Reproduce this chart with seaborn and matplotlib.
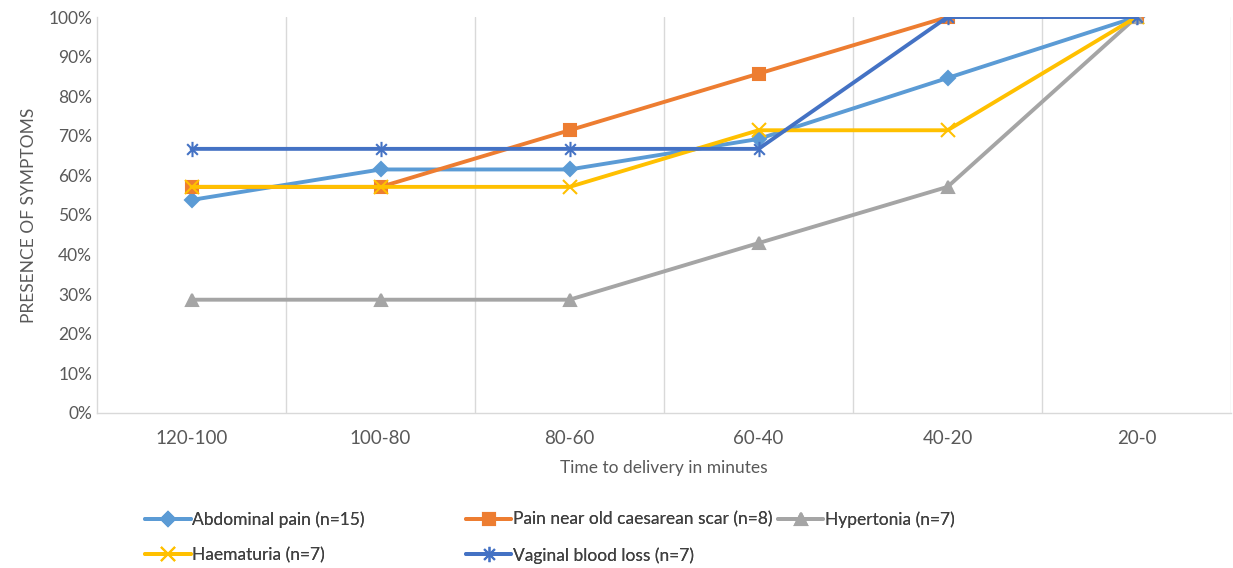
import matplotlib
matplotlib.use("Agg")
import matplotlib.pyplot as plt
import seaborn as sns
import pandas as pd
from matplotlib.path import Path
from matplotlib.ticker import PercentFormatter

# time windows before delivery
periods = ["120-100", "100-80", "80-60", "60-40", "40-20", "20-0"]

# share of patients with the symptom
abdominal_pain = [0.538, 0.615, 0.615, 0.692, 0.846, 1.0]
scar_pain = [0.571, 0.571, 0.714, 0.857, 1.0, 1.0]
hypertonia = [0.286, 0.286, 0.286, 0.429, 0.571, 1.0]
haematuria = [0.571, 0.571, 0.571, 0.714, 0.714, 1.0]
blood_loss = [0.667, 0.667, 0.667, 0.667, 1.0, 1.0]

labels = ["Abdominal pain (n=15)", "Pain near old caesarean scar (n=8)",
          "Hypertonia (n=7)", "Haematuria (n=7)", "Vaginal blood loss (n=7)"]
values = [abdominal_pain, scar_pain, hypertonia, haematuria, blood_loss]
colors = ["#5B9BD5", "#ED7D31", "#A5A5A5", "#FFC000", "#4472C4"]

# Excel-like star: an x with a vertical stroke
star = Path([(-0.7, -0.7), (0.7, 0.7), (-0.7, 0.7), (0.7, -0.7), (0, -1), (0, 1)],
            [Path.MOVETO, Path.LINETO, Path.MOVETO, Path.LINETO, Path.MOVETO, Path.LINETO])
markers = ["D", "s", "^", "x", star]
msizes = [7, 9, 9, 10, 11]

sns.set_style("white")
plt.rcParams["font.family"] = ["Lato", "DejaVu Sans"]

fig = plt.figure(figsize=(12.33, 5.68), dpi=100)
ax = fig.add_axes([0.0787, 0.273, 0.9197, 0.697])

for lab, vals, col, mk, ms in zip(labels, values, colors, markers, msizes):
    df = pd.DataFrame({"period": periods, "share": vals})
    sns.lineplot(data=df, x="period", y="share", ax=ax, color=col, linewidth=2.8,
                 marker=mk, markersize=ms, markeredgecolor=col, markeredgewidth=1.5,
                 label=lab, sort=False)

ax.set_xlim(-0.5, 5.5)
ax.set_ylim(0, 1)
ax.set_yticks([i / 10 for i in range(11)])
ax.yaxis.set_major_formatter(PercentFormatter(1.0, decimals=0))
for b in [0.5, 1.5, 2.5, 3.5, 4.5, 5.5]:
    ax.axvline(b, color="#D9D9D9", linewidth=1, zorder=0)

for s in ["top", "right"]:
    ax.spines[s].set_visible(False)
for s in ["left", "bottom"]:
    ax.spines[s].set_color("#D9D9D9")
    ax.spines[s].set_linewidth(1)

ax.tick_params(axis="both", length=0, colors="#595959", labelsize=12.5)
ax.tick_params(axis="x", pad=12, labelsize=13.5)

ax.set_xlabel("Time to delivery in minutes", fontsize=12.5, color="#595959", labelpad=10)
ax.set_ylabel("PRESENCE OF SYMPTOMS", fontsize=12.5, color="#595959", labelpad=8)

handles, labs = ax.get_legend_handles_labels()
ax.get_legend().remove()
# three legend columns placed like the Excel legend
columns = [([0, 3], 0.118), ([1, 4], 0.378), ([2], 0.631)]
for idx, x0 in columns:
    leg = fig.legend([handles[i] for i in idx], [labs[i] for i in idx],
                     loc="upper left", bbox_to_anchor=(x0, 0.099), frameon=False,
                     fontsize=12.5, labelcolor="#404040", handlelength=2.6,
                     handletextpad=0.1, labelspacing=1.1, borderaxespad=0,
                     borderpad=0)
    fig.add_artist(leg)

fig.savefig("out.png", dpi=100)
